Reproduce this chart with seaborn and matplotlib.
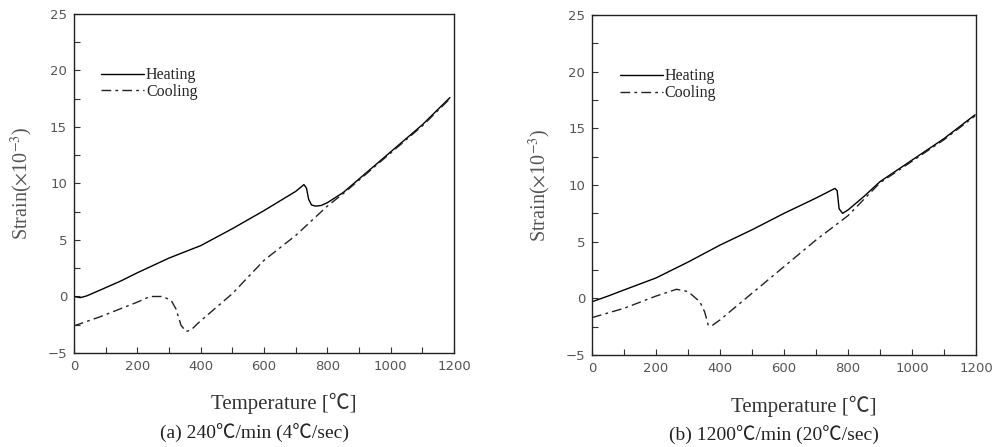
import matplotlib
matplotlib.use("Agg")
import matplotlib.pyplot as plt
import seaborn as sns
import pandas as pd
from matplotlib.ticker import MultipleLocator

sns.set_theme(style="white")
plt.rcParams['font.family'] = ['Liberation Serif', 'Noto Sans CJK KR', 'DejaVu Sans']
plt.rcParams['mathtext.fontset'] = 'stix'

# ---- Panel (a): 240 C/min ----
a_heat_T = [0, 10, 20, 40, 82, 150, 200, 300, 400, 500, 600, 700, 726, 734, 741, 750, 762, 780, 800, 850, 900, 1000, 1100, 1187]
a_heat_S = [0.0, -0.05, -0.1, 0.05, 0.56, 1.4, 2.1, 3.4, 4.5, 6.0, 7.6, 9.3, 9.9, 9.6, 8.6, 8.1, 8.0, 8.05, 8.3, 9.2, 10.4, 12.8, 15.2, 17.6]
a_cool_T = [0, 82, 200, 240, 280, 307, 322, 338, 354, 370, 396, 500, 600, 700, 800, 850, 900, 1000, 1100, 1187]
a_cool_S = [-2.6, -1.8, -0.5, 0.0, 0.0, -0.35, -1.1, -2.55, -3.1, -2.95, -2.25, 0.25, 3.2, 5.4, 8.0, 9.1, 10.3, 12.7, 15.1, 17.5]

# ---- Panel (b): 1200 C/min ----
b_heat_T = [0, 50, 100, 200, 300, 400, 500, 600, 700, 759, 766, 772, 783, 800, 850, 900, 1000, 1100, 1197]
b_heat_S = [-0.3, 0.2, 0.74, 1.8, 3.2, 4.7, 6.05, 7.5, 8.85, 9.7, 9.5, 7.9, 7.5, 7.8, 9.0, 10.3, 12.2, 14.1, 16.2]
b_cool_T = [0, 100, 200, 264, 300, 337, 352, 363, 373, 400, 500, 600, 700, 800, 900, 1000, 1100, 1197]
b_cool_S = [-1.7, -0.88, 0.2, 0.8, 0.6, -0.3, -1.2, -2.35, -2.45, -1.9, 0.45, 2.8, 5.15, 7.3, 10.2, 12.1, 14.0, 16.1]

captions = ["(a) 240\u2103/min (4\u2103/sec)", "(b) 1200\u2103/min (20\u2103/sec)"]
x_ticks = [0, 200, 400, 600, 800, 1000, 1200]
y_ticks = [-5, 0, 5, 10, 15, 20, 25]

fig = plt.figure(figsize=(9.97, 4.47), dpi=100)
positions = [[0.0742, 0.2103, 0.3812, 0.7584], [0.5938, 0.2058, 0.3852, 0.7606]]
panels = [(a_heat_T, a_heat_S, a_cool_T, a_cool_S), (b_heat_T, b_heat_S, b_cool_T, b_cool_S)]
leg_anchor = [(0.055, 0.862), (0.055, 0.862)]
cap_y = [0.031, 0.026]
lab_y = [0.098, 0.09]

for i, (pos, (hT, hS, cT, cS)) in enumerate(zip(positions, panels)):
    ax = fig.add_axes(pos)
    dh = pd.DataFrame({"T": hT, "S": hS})
    dc = pd.DataFrame({"T": cT, "S": cS})
    sns.lineplot(data=dh, x="T", y="S", ax=ax, color="black", lw=1.0, label="Heating", sort=False)
    sns.lineplot(data=dc, x="T", y="S", ax=ax, color="#222222", lw=1.0, label="Cooling", sort=False,
                 linestyle=(0, (7, 3, 2, 3)))
    ax.set_xlim(0, 1200)
    ax.set_ylim(-5, 25)
    ax.set_xticks(x_ticks)
    ax.set_yticks(y_ticks)
    ax.xaxis.set_minor_locator(MultipleLocator(100))
    ax.yaxis.set_minor_locator(MultipleLocator(2.5))
    ax.tick_params(which="both", direction="in", length=4.5, width=0.8, color="#333333",
                   top=False, right=False, bottom=True, left=True)
    ax.tick_params(which="major", labelcolor="#555555", pad=5)
    for lab in ax.get_xticklabels() + ax.get_yticklabels():
        lab.set_family(['DejaVu Sans'])
        lab.set_fontsize(9.5)
    for sp in ax.spines.values():
        sp.set_visible(True)
        sp.set_color("#222222")
        sp.set_linewidth(1.0)
    ax.set_xlabel("")
    ax.set_ylabel(r"Strain($\times$10$^{-3}$)", fontsize=14.5, color="#555555", labelpad=9)
    leg = ax.legend(loc="upper left", bbox_to_anchor=leg_anchor[i], frameon=False,
                    fontsize=11.5, handlelength=2.7, handletextpad=0.1, labelspacing=0.05,
                    borderaxespad=0)
    cx = pos[0] + pos[2] / 2
    fig.text(cx + 0.02, lab_y[i], "Temperature [\u2103]", ha="center", va="center",
             fontsize=15, color="#333333")
    fig.text(cx - 0.01, cap_y[i], captions[i], ha="center", va="center",
             fontsize=14, color="#222222")

fig.savefig("out.png", dpi=100)
